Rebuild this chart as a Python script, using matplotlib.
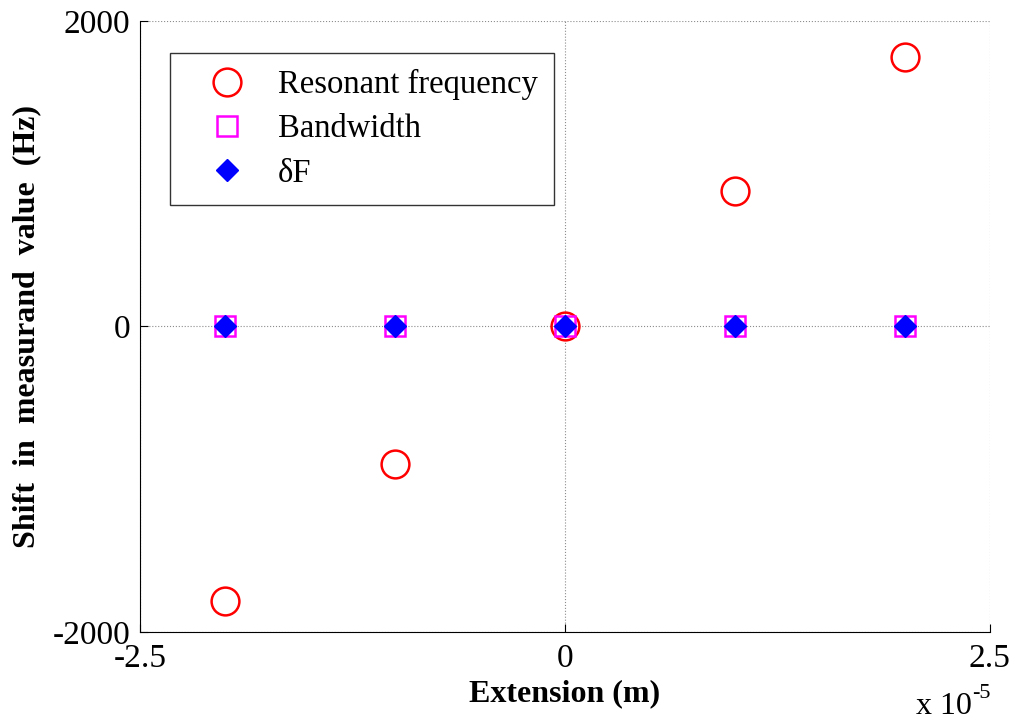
import numpy as np
import matplotlib.pyplot as plt
from matplotlib.ticker import FuncFormatter

# data (extension in m, shifts in Hz)
extension = np.array([-2, -1, 0, 1, 2]) * 1e-5
res_freq = [-1800, -900, 0, 885, 1765]
bandwidth = [0, 0, 0, 0, 0]
delta_f = [0, 0, 0, 0, 0]

xticks = [-2.5e-5, 0, 2.5e-5]
yticks = [-2000, 0, 2000]

plt.rcParams['font.family'] = ['Liberation Serif', 'DejaVu Serif']
plt.rcParams['axes.unicode_minus'] = False

fig = plt.figure(figsize=(10.15, 7.27), dpi=100)
ax = fig.add_axes([0.138, 0.1307, 0.837, 0.8405])

ax.plot(extension, res_freq, 'o', ls='none', mfc='none', mec='red', mew=1.8,
        ms=20, label='Resonant frequency')
ax.plot(extension, bandwidth, 's', ls='none', mfc='none', mec='magenta', mew=1.8,
        ms=14, label='Bandwidth')
ax.plot(extension, delta_f, 'D', ls='none', mfc='blue', mec='blue',
        ms=11, label='\u03b4F')

ax.set_xlim(-2.5e-5, 2.5e-5)
ax.set_ylim(-2000, 2000)
ax.set_xticks(xticks)
ax.set_yticks(yticks)
ax.xaxis.set_major_formatter(FuncFormatter(lambda v, p: '0' if v == 0 else '%g' % (v / 1e-5)))
ax.tick_params(direction='in', length=6, labelsize=24, width=0.8)
ax.tick_params(axis='y', pad=7)
ax.tick_params(axis='x', pad=8)
ax.grid(True, ls=':', color='0.55', lw=0.8)

ax.spines['top'].set_visible(False)
ax.spines['right'].set_visible(False)

ax.set_xlabel('Extension (m)', fontsize=23, fontweight='bold', labelpad=4)
ax.set_ylabel('Shift  in  measurand  value  (Hz)', fontsize=23, fontweight='bold', labelpad=8)

# MATLAB-style exponent under the right end of the x axis
fig.text(972 / 1015, 1 - 714 / 727, 'x 10', fontsize=23, ha='right', va='baseline')
fig.text(972 / 1015, 1 - 703 / 727, '-5', fontsize=16, ha='left', va='bottom')

leg = ax.legend(loc='upper left', bbox_to_anchor=(0.035, 0.948), borderaxespad=0,
                fontsize=23.5, frameon=True, fancybox=False, edgecolor='black',
                handletextpad=0.3, borderpad=0.5, labelspacing=0.42, handlelength=2.5)
leg.get_frame().set_linewidth(1.0)

fig.savefig('out.png', dpi=100)
